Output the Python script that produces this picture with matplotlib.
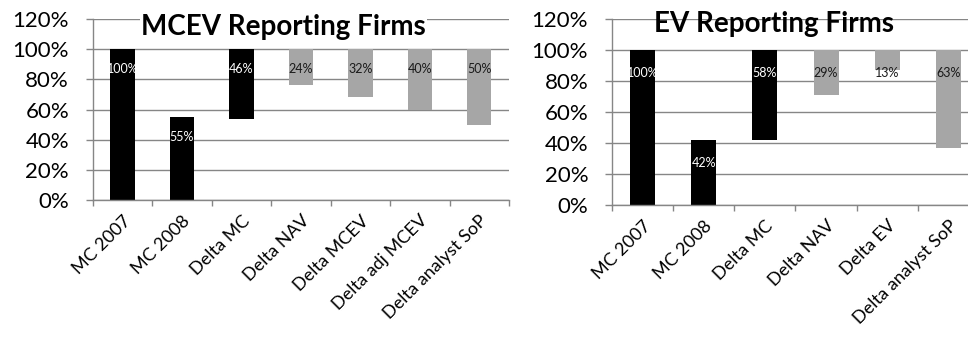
import matplotlib
matplotlib.use("Agg")
import matplotlib.pyplot as plt
from matplotlib.ticker import MultipleLocator, FuncFormatter

plt.rcParams['font.family'] = ['Lato', 'DejaVu Sans']

# MCEV reporting firms
mcev_cats = ['MC 2007', 'MC 2008', 'Delta MC', 'Delta NAV', 'Delta MCEV',
             'Delta adj MCEV', 'Delta analyst SoP']
mcev_vals = [100, 55, 46, 24, 32, 40, 50]

# EV reporting firms
ev_cats = ['MC 2007', 'MC 2008', 'Delta MC', 'Delta NAV', 'Delta EV',
           'Delta analyst SoP']
ev_vals = [100, 42, 58, 29, 13, 63]

N_LEVELS = 2          # first two bars stand on 0, the deltas hang from 100%
N_BLACK = 3           # MC bars are black, the rest grey
BLACK, GREY = '#000000', '#a6a6a6'
GRID = '#868686'


def waterfall(ax, cats, vals, title, title_xy, title_box, lab_off):
    bottoms = [0 if i < N_LEVELS else 100 - v for i, v in enumerate(vals)]
    colors = [BLACK if i < N_BLACK else GREY for i in range(len(vals))]
    x = list(range(len(cats)))
    ax.bar(x, vals, bottom=bottoms, width=0.41, color=colors, zorder=2)

    for xi, v, b, c in zip(x, vals, bottoms, colors):
        ax.annotate(f'{v}%', (xi, b + v), xytext=(0, -lab_off),
                    textcoords='offset points', ha='center', va='center',
                    fontsize=9, color='white' if c == BLACK else '#1a1a1a',
                    zorder=3)

    ax.set_xlim(-0.5, len(cats) - 0.5)
    ax.set_ylim(0, 120)
    ax.yaxis.set_major_locator(MultipleLocator(20))
    ax.yaxis.set_major_formatter(FuncFormatter(lambda v, p: f'{v:.0f}%'))
    ax.yaxis.grid(True, color=GRID, lw=1)
    ax.set_axisbelow(True)

    # ticks on the category boundaries, labels on the centres
    ax.set_xticks([i - 0.5 for i in range(len(cats) + 1)])
    ax.set_xticklabels([])
    ax.set_xticks(x, minor=True)
    ax.set_xticklabels(cats, minor=True, rotation=45, ha='right',
                       rotation_mode='anchor', fontsize=13)
    ax.tick_params(axis='x', which='minor', length=0, pad=9)
    ax.tick_params(axis='x', which='major', length=4, color=GRID, width=1)
    ax.tick_params(axis='y', length=5, color=GRID, width=1, pad=12,
                   labelsize=16)

    for s in ('top', 'right'):
        ax.spines[s].set_visible(False)
    for s in ('left', 'bottom'):
        ax.spines[s].set_color(GRID)
        ax.spines[s].set_linewidth(1)

    kw = dict(fontsize=20, fontweight='bold', ha='center', va='center',
              transform=ax.transAxes, zorder=5)
    if title_box:
        kw['bbox'] = dict(facecolor='white', edgecolor='none', pad=1)
    ax.text(title_xy[0], title_xy[1], title, **kw)


fig = plt.figure(figsize=(9.68, 3.4), dpi=100)
ax1 = fig.add_axes([0.0958, 0.4118, 0.430, 0.532])
ax2 = fig.add_axes([0.632, 0.397, 0.3795, 0.547])

waterfall(ax1, mcev_cats, mcev_vals, 'MCEV Reporting Firms', (0.458, 0.955),
          True, 14.5)
waterfall(ax2, ev_cats, ev_vals, 'EV Reporting Firms', (0.442, 0.975),
          False, 16.5)

fig.savefig('out.png', dpi=100)
